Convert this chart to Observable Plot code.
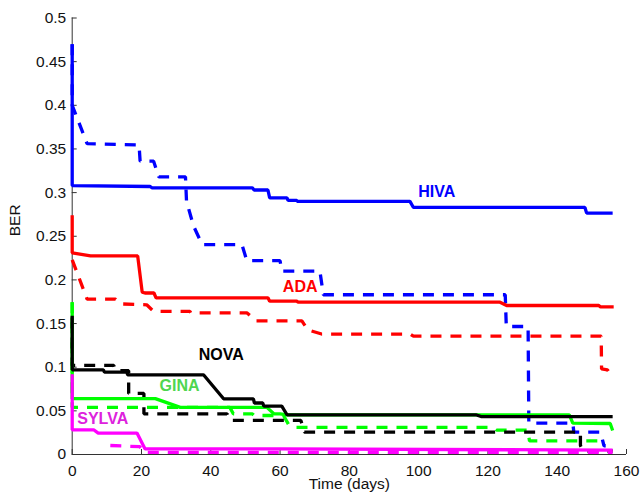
<!DOCTYPE html>
<html><head><meta charset="utf-8">
<script src="https://cdn.jsdelivr.net/npm/d3@7"></script>
<script src="https://cdn.jsdelivr.net/npm/@observablehq/plot@0.6"></script>
<style>html,body{margin:0;padding:0;background:#fff;}</style>
</head><body><div id="chart"></div>
<script>
// ---- Data ----
const xTicks = [0, 20, 40, 60, 80, 100, 120, 140, 160];
const yTicks = [0, 0.05, 0.1, 0.15, 0.2, 0.25, 0.3, 0.35, 0.4, 0.45, 0.5];
const xLabel = "Time (days)";
const yLabel = "BER";

// [day, BER] points
const hivaSolid = [[0,0.47],[0,0.308],[22.5,0.307],[23,0.3055],[52,0.3055],[52.5,0.303],[56.5,0.303],[57,0.294],[62,0.294],[62.3,0.291],[64.8,0.291],[65,0.29],[97.5,0.29],[98.5,0.283],[148,0.283],[148.5,0.2765],[156,0.2765]];
const hivaDashed = [[0,0.47],[0,0.4],[4.3,0.356],[19.3,0.3547],[19.6,0.336],[23.5,0.336],[25,0.318],[32.7,0.318],[33,0.29],[35,0.262],[37.5,0.2405],[49,0.2405],[50.4,0.222],[60,0.222],[60.5,0.21],[71.5,0.21],[72.5,0.183],[125,0.183],[125.3,0.1466],[131.6,0.1466],[131.8,0.036],[144.5,0.036],[144.8,0.0256],[152.5,0.0256],[153.5,0.01],[154,0.01]];
const adaSolid = [[0,0.274],[0,0.231],[5.3,0.2275],[18.9,0.2275],[20.2,0.186],[21,0.185],[23.6,0.185],[24.2,0.1795],[56.5,0.1795],[57,0.1756],[64.8,0.1756],[65.2,0.1745],[123.5,0.1745],[125.4,0.1707],[152,0.1707],[152.5,0.169],[156.3,0.169]];
const adaDashed = [[0,0.223],[4.3,0.178],[12.5,0.178],[14,0.1725],[21.5,0.1715],[23.5,0.164],[34,0.164],[34.2,0.1623],[50.4,0.1623],[52,0.157],[53,0.153],[66.3,0.153],[68,0.1428],[72,0.138],[97.5,0.138],[98.5,0.1355],[152.7,0.1355],[152.8,0.098],[154.5,0.097],[155.5,0.0905],[156.2,0.0905]];
const ginaSolid = [[0,0.1745],[0,0.064],[24,0.064],[31.2,0.054],[56.2,0.054],[58.2,0.0466],[60,0.0466],[62,0.0455],[143.5,0.0455],[144.5,0.036],[155.3,0.0355],[156,0.0275]];
const ginaDashed = [[0,0.1745],[0,0.054],[45.5,0.054],[46.5,0.0466],[52,0.0466],[52.5,0.0447],[61,0.0447],[62.5,0.034],[64.5,0.031],[121.5,0.031],[122.5,0.028],[131.5,0.028],[132,0.0155],[153.5,0.0155]];
const novaSolid = [[0,0.159],[0,0.097],[9,0.097],[9.3,0.0943],[15.8,0.0943],[16,0.0913],[37.9,0.0913],[43.7,0.0638],[52.3,0.0638],[52.6,0.059],[55,0.059],[55.3,0.0555],[60.5,0.0555],[62,0.0455],[116.5,0.0455],[118,0.0435],[156,0.0435]];
const novaDashed = [[0,0.157],[0,0.102],[12,0.102],[12.5,0.096],[16.3,0.096],[16.3,0.07],[20.7,0.07],[20.7,0.0466],[44.7,0.0466],[45.5,0.039],[66,0.039],[67,0.0256],[146.7,0.0256],[146.7,0.0103],[147.5,0.004],[156,0.004]];
const sylvaSolid = [[0,0.092],[0,0.0283],[6.2,0.0283],[7.5,0.0245],[18.7,0.0245],[21,0.0065],[60,0.0065],[156,0.005]];
const sylvaDashed = [[11,0.0103],[19.5,0.009],[21,0.0025],[156,0.0025]];

const seriesNames  = ["ADA", "GINA", "HIVA", "NOVA", "SYLVA"];
const seriesColors = ["#ff0000", "#00ff00", "#0000ff", "#000000", "#ff00ff"];
const solidData  = [adaSolid, ginaSolid, hivaSolid, novaSolid, sylvaSolid];
const dashedData = [adaDashed, ginaDashed, hivaDashed, novaDashed, sylvaDashed];

const labelNames  = ["HIVA", "ADA", "NOVA", "GINA", "SYLVA"];
const labelDays   = [99.9, 60.8, 36.5, 25.2, 1.45];
const labelBer    = [0.301, 0.1916, 0.1145, 0.0788, 0.0409];
const labelColors = ["#0000ff", "#ff0000", "#000000", "#4fd64f", "#dd22dd"];

// ---- Build ----
const labelRows = labelNames.map((n, i) => ({name: n, day: labelDays[i], ber: labelBer[i], color: labelColors[i]}));

const lineMarks = [];
const addLines = (datasets, dashed) => datasets.forEach((pts, i) => {
  lineMarks.push(Plot.line(pts, {
    x: d => d[0], y: d => d[1],
    stroke: seriesColors[i], strokeWidth: 3.3,
    strokeDasharray: dashed ? "11,9" : null,
    strokeLinejoin: "miter", strokeLinecap: "butt"
  }));
});
addLines(dashedData, true);
addLines(solidData, false);

const chart = Plot.plot({
  width: 641, height: 496,
  marginLeft: 71.7, marginRight: 15, marginTop: 17.5, marginBottom: 42,
  style: {fontFamily: "'Liberation Sans', Arial, Helvetica, sans-serif", fontSize: "15.5px", background: "#fff", color: "#111"},
  x: {domain: [0, 160], axis: null},
  y: {domain: [0, 0.5], axis: null},
  marks: [
    Plot.ruleX([0], {stroke: "#333", strokeWidth: 1}),
    Plot.ruleY([0], {stroke: "#333", strokeWidth: 1}),
    Plot.axisX(xTicks, {tickSize: -5, tickPadding: 15.5, tickFormat: d => String(d), stroke: "#333", label: null, fontSize: 15.5}),
    Plot.axisY(yTicks, {tickSize: -5, tickPadding: 11, tickFormat: d => String(d), stroke: "#333", label: null, fontSize: 15.5}),
    ...lineMarks,
    Plot.text(labelRows, {x: "day", y: "ber", text: "name", fill: "color", textAnchor: "start", fontWeight: "bold", fontSize: 16}),
    Plot.text([xLabel], {frameAnchor: "bottom", dy: 34.5, fontSize: 15.5, fill: "#111"}),
    Plot.text([yLabel], {frameAnchor: "left", dx: -57, rotate: -90, fontSize: 15.5, fill: "#111"})
  ]
});
document.getElementById("chart").appendChild(chart);
</script>
</body></html>
